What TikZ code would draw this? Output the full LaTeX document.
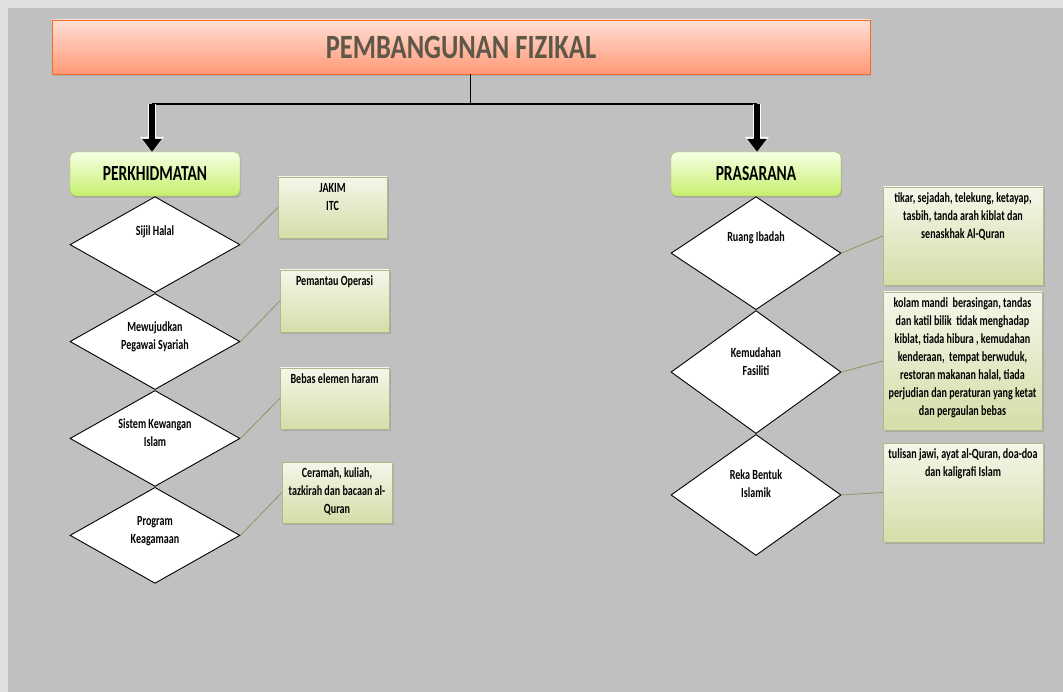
\documentclass[tikz,border=0pt]{standalone}
\usepackage{fontspec}
\setmainfont{Carlito}[FakeStretch=0.72]
\newfontfamily\titlefont{Carlito}[FakeStretch=0.78]
\usepackage{tikz}
\usetikzlibrary{positioning,shapes,arrows.meta,shadows}
\definecolor{bggray}{RGB}{192,192,192}
\definecolor{framegray}{RGB}{224,224,224}
\definecolor{titletop}{RGB}{255,224,214}
\definecolor{titlebot}{RGB}{255,152,118}
\definecolor{titleline}{RGB}{245,110,40}
\definecolor{titletext}{RGB}{95,88,72}
\definecolor{headtop}{RGB}{246,255,228}
\definecolor{headbot}{RGB}{198,240,108}
\definecolor{headline}{RGB}{150,200,60}
\definecolor{notetop}{RGB}{246,246,234}
\definecolor{notebot}{RGB}{213,221,168}
\definecolor{noteline}{RGB}{178,184,138}
\definecolor{linkline}{RGB}{140,150,100}
\newcommand{\uptext}[2][4pt]{\raisebox{#1}[0pt][0pt]{\begin{tabular}{@{}c@{}}#2\end{tabular}}}
\newcommand{\notetext}[3]{\parbox[c][#2][t]{#1}{\centering\begin{tabular}{@{}c@{}}#3\end{tabular}}}
\tikzstyle{titlebox}=[%
      rectangle, draw=titleline, top color=titletop, bottom color=titlebot,
      drop shadow={shadow xshift=1pt, shadow yshift=-2pt, opacity=.3},
      minimum width=818pt, minimum height=54pt, text=titletext,
      font=\titlefont\bfseries\fontsize{34}{40}\selectfont
]
\tikzstyle{headbox}=[%
      rectangle, rounded corners=6pt, draw=headline, top color=headtop, bottom color=headbot,
      drop shadow={shadow xshift=1pt, shadow yshift=-2pt, opacity=.3},
      minimum width=170pt, minimum height=44pt,
      font=\bfseries\fontsize{21.5}{26}\selectfont
]
\tikzstyle{choice}=[%
      diamond, draw=black, line width=0.9pt, fill=white, inner sep=0pt,
      minimum width=170pt, font=\bfseries\fontsize{14}{18}\selectfont
]
\tikzstyle{note}=[%
      rectangle, draw=noteline, top color=notetop, bottom color=notebot,
      drop shadow={shadow xshift=1.5pt, shadow yshift=-2pt, opacity=.35},
      inner xsep=1pt, inner ysep=3pt, font=\bfseries\fontsize{14}{18}\selectfont
]
\tikzstyle{link}=[draw=linkline, line width=0.8pt]
\tikzstyle{bigarrow}=[%
      line width=6pt, -{Triangle[width=19pt,length=13pt]},
      preaction={draw=white, line width=8pt, -{Triangle[width=23pt,length=15pt]}}
]
\begin{document}
\begin{tikzpicture}[x=1pt, y=-1pt]
    \fill[framegray] (0,0) rectangle (1063,692);
    \fill[bggray] (8,8) rectangle (1063,692);
    \useasboundingbox (0,0) rectangle (1063,692);

    \node[titlebox] (title) at (461,47)  {PEMBANGUNAN FIZIKAL};
    \node[headbox]  (perk)  at (155,174) {PERKHIDMATAN};
    \node[headbox]  (pras)  at (756,174) {PRASARANA};

    \coordinate (join) at (470,104);
    \coordinate (barL) at (152,104);
    \coordinate (barR) at (757,104);
    \draw[line width=0.8pt] (title.south -| join) -- (join);
    \draw[line width=2.5pt] (barL) -- (barR);
    \draw[bigarrow] (barL) -- (barL |- perk.north);
    \draw[bigarrow] (barR) -- (barR |- pras.north);

    % perkhidmatan
    \node[choice, minimum height=96pt]  (halal)   [below=0pt of perk]   {\uptext[9pt]{Sijil Halal}};
    \node[choice, minimum height=96pt]  (pegawai) [below=0pt of halal]  {\uptext[1pt]{Mewujudkan\\Pegawai Syariah}};
    \node[choice, minimum height=96pt]  (wang)    [below=0pt of pegawai]{\uptext[1pt]{Sistem Kewangan\\Islam}};
    \node[choice, minimum height=96pt]  (agama)   [below=0pt of wang]   {\uptext[1pt]{Program\\Keagamaan}};

    \node[note] (jakim)   at (332.5,207.5) {\notetext{107pt}{55pt}{JAKIM\\ITC}};
    \node[note] (pantau)  at (334.5,301)   {\notetext{107pt}{56pt}{Pemantau Operasi}};
    \node[note] (haram)   at (334.5,398.5) {\notetext{107pt}{55pt}{Bebas elemen haram}};
    \node[note] (ceramah) at (337,492.5)   {\notetext{108pt}{55pt}{Ceramah, kuliah,\\tazkirah dan bacaan al-\\Quran}};

    % prasarana
    \node[choice, minimum height=113pt] (ibadah)  [below=0pt of pras]   {\uptext[12pt]{Ruang Ibadah}};
    \node[choice, minimum height=123pt] (fasil)   [below=0pt of ibadah] {\uptext[6pt]{Kemudahan\\Fasiliti}};
    \node[choice, minimum height=121pt] (reka)    [below=0pt of fasil]  {\uptext[6pt]{Reka Bentuk\\Islamik}};

    \node[note] (tikar)   at (963,236)     {\notetext{158pt}{92pt}{tikar, sejadah, telekung, ketayap,\\tasbih, tanda arah kiblat dan\\senaskhak Al-Quran}};
    \node[note] (kolam)   at (962.5,361)   {\notetext{157pt}{132pt}{kolam mandi\ \ berasingan, tandas\\dan katil bilik\ \ tidak menghadap\\kiblat, tiada hibura , kemudahan\\kenderaan,\ \ tempat berwuduk,\\restoran makanan halal, tiada\\perjudian dan peraturan yang ketat\\dan pergaulan bebas}};
    \node[note] (jawi)    at (963,492.5)   {\notetext{158pt}{93pt}{tulisan jawi, ayat al-Quran, doa-doa\\dan kaligrafi Islam}};

    \path[link] (halal.east)   -- (jakim.west)
                (pegawai.east) -- (pantau.west)
                (wang.east)    -- (haram.west)
                (agama.east)   -- (ceramah.west)
                (ibadah.east)  -- (tikar.west)
                (fasil.east)   -- (kolam.west)
                (reka.east)    -- (jawi.west);
\end{tikzpicture}
\end{document}
